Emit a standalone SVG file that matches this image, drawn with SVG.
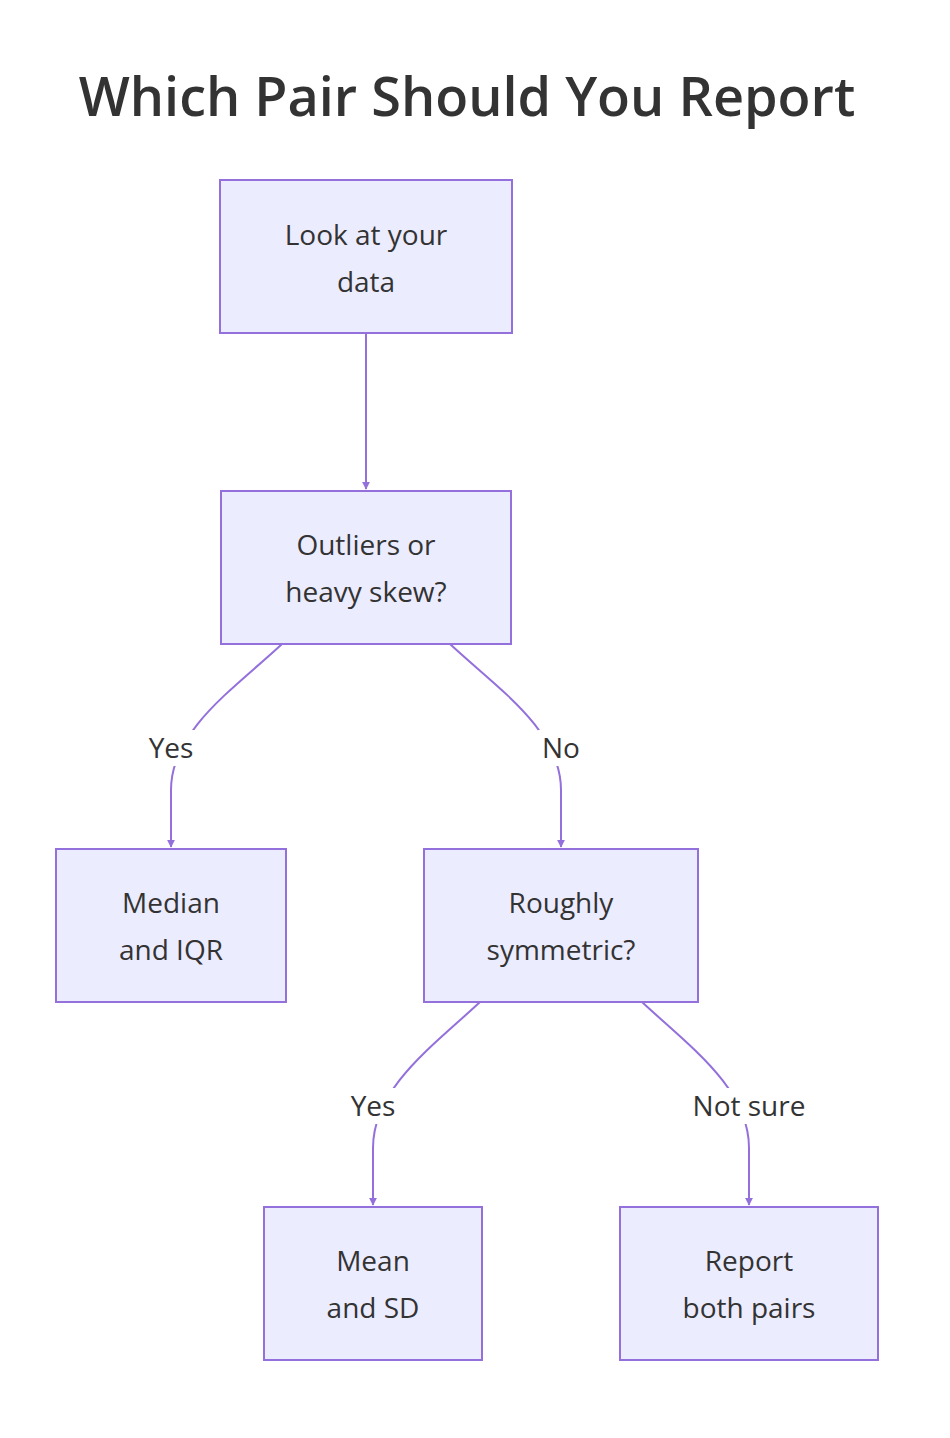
<svg xmlns="http://www.w3.org/2000/svg" width="950" height="1438" viewBox="0 0 950 1438">
<style>
.n rect{fill:#ECECFF;stroke:#9370DB;stroke-width:2}
text{font-family:"Open Sans","Noto Sans",sans-serif;fill:#333;text-anchor:middle}
.t{font-size:28px}
.e path{fill:none;stroke:#9370DB;stroke-width:2}
.lb{fill:#fff}
</style>
<defs>
<marker id="ah" viewBox="0 0 10 10" refX="9" refY="5" markerWidth="8" markerHeight="8" orient="auto" markerUnits="userSpaceOnUse"><path d="M0,0L10,5L0,10z" fill="#9370DB"/></marker>
</defs>
<rect width="950" height="1438" fill="#fff"/>
<text x="467" y="116" font-size="54" font-weight="600">Which Pair Should You Report</text>
<g class="e">
<path d="M366,333 L366,489" marker-end="url(#ah)"/>
<path d="M282,644 C235,688 171,730 171,790 L171,847" marker-end="url(#ah)"/>
<path d="M450,644 C497,688 561,730 561,790 L561,847" marker-end="url(#ah)"/>
<path d="M480,1002 C433,1046 373,1088 373,1148 L373,1205" marker-end="url(#ah)"/>
<path d="M642,1002 C689,1046 749,1088 749,1148 L749,1205" marker-end="url(#ah)"/>
<rect class="lb" x="145" y="730" width="52" height="36"/>
<text class="t" x="171" y="758">Yes</text>
<rect class="lb" x="538" y="730" width="46" height="36"/>
<text class="t" x="561" y="758">No</text>
<rect class="lb" x="347" y="1088" width="52" height="36"/>
<text class="t" x="373" y="1116">Yes</text>
<rect class="lb" x="688" y="1088" width="122" height="36"/>
<text class="t" x="749" y="1116">Not sure</text>
</g>
<g id="A" class="n"><rect x="220" y="180" width="292" height="153"/><text class="t" x="366" y="245">Look at your</text><text class="t" x="366" y="292">data</text></g>
<g id="B" class="n"><rect x="221" y="491" width="290" height="153"/><text class="t" x="366" y="555">Outliers or</text><text class="t" x="366" y="602">heavy skew?</text></g>
<g id="C" class="n"><rect x="56" y="849" width="230" height="153"/><text class="t" x="171" y="913">Median</text><text class="t" x="171" y="960">and IQR</text></g>
<g id="D" class="n"><rect x="424" y="849" width="274" height="153"/><text class="t" x="561" y="913">Roughly</text><text class="t" x="561" y="960">symmetric?</text></g>
<g id="E" class="n"><rect x="264" y="1207" width="218" height="153"/><text class="t" x="373" y="1271">Mean</text><text class="t" x="373" y="1318">and SD</text></g>
<g id="F" class="n"><rect x="620" y="1207" width="258" height="153"/><text class="t" x="749" y="1271">Report</text><text class="t" x="749" y="1318">both pairs</text></g>
</svg>
